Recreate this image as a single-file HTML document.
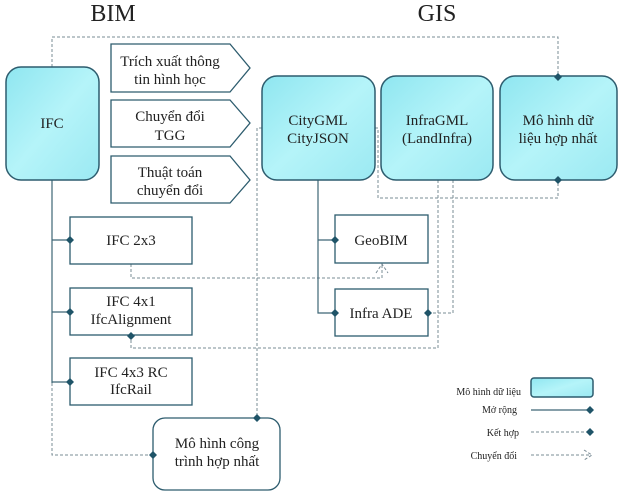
<!DOCTYPE html>
<html><head><meta charset="utf-8"><style>
html,body{margin:0;padding:0;background:#fff;}
svg{display:block;font-family:"Liberation Serif",serif;}
</style></head><body>
<svg width="640" height="492" viewBox="0 0 640 492" xmlns="http://www.w3.org/2000/svg">
<defs>
<linearGradient id="g" x1="0" y1="0" x2="1" y2="1">
<stop offset="0" stop-color="#8fe6f0"/><stop offset="0.5" stop-color="#b5f4f9"/><stop offset="1" stop-color="#9be9f2"/>
</linearGradient>
</defs>
<g fill="#222" font-size="24" text-anchor="middle">
<text x="113" y="21">BIM</text>
<text x="437" y="21">GIS</text>
</g>
<!-- dashed connectors -->
<g fill="none" stroke="#7a8c96" stroke-width="1" stroke-dasharray="3,2">
<path d="M52 67 V37 H558 V77"/>
<path d="M52 383 V455 H153"/>
<path d="M262 128 H257 V418"/>
<path d="M375 128 H378 V198 H558 V180"/>
<path d="M438 180 V348 H131 V336"/>
<path d="M453 180 V313 H428"/>
<path d="M131 264 V278 H382 V265"/>
<path d="M376 273 L382 264 L388 273"/>
<path d="M531 455 H590"/><path d="M584 450 L592 455 L584 460"/>
<path d="M531 432 H588"/>
</g>
<!-- solid connectors -->
<g fill="none" stroke="#3e6676" stroke-width="1.2">
<path d="M52 180 V383"/>
<path d="M52 240 H70 M52 312 H70 M52 382 H70"/>
<path d="M318 180 V313 H335 M318 240 H335"/>
<path d="M531 410 H588"/>
</g>
<!-- data model boxes -->
<g fill="url(#g)" stroke="#2d5c6e" stroke-width="1.5">
<rect x="6" y="67" width="93" height="113" rx="15"/>
<rect x="262" y="76" width="113" height="104" rx="15"/>
<rect x="381" y="76" width="112" height="104" rx="15"/>
<rect x="500" y="76" width="117" height="104" rx="15"/>
<rect x="531" y="378" width="62" height="19" rx="3"/>
</g>
<!-- pentagons -->
<g fill="#fff" stroke="#2d5c6e" stroke-width="1.3">
<path d="M111 44 H230 L250 68 L230 92 H111 Z"/>
<path d="M111 100 H230 L250 123 L230 147 H111 Z"/>
<path d="M111 156 H230 L250 180 L230 203 H111 Z"/>
<rect x="70" y="217" width="122" height="47"/>
<rect x="70" y="288" width="122" height="47"/>
<rect x="70" y="358" width="122" height="47"/>
<rect x="335" y="215" width="93" height="48"/>
<rect x="335" y="289" width="93" height="47"/>
<rect x="153" y="418" width="127" height="72" rx="12"/>
</g>
<!-- diamonds -->
<g fill="#1f5468">
<path d="M70 236 l4 4 l-4 4 l-4 -4z"/>
<path d="M70 308 l4 4 l-4 4 l-4 -4z"/>
<path d="M70 378 l4 4 l-4 4 l-4 -4z"/>
<path d="M335 236 l4 4 l-4 4 l-4 -4z"/>
<path d="M335 309 l4 4 l-4 4 l-4 -4z"/>
<path d="M428 309 l4 4 l-4 4 l-4 -4z"/>
<path d="M131 332 l4 4 l-4 4 l-4 -4z"/>
<path d="M558 73 l4 4 l-4 4 l-4 -4z"/>
<path d="M558 176 l4 4 l-4 4 l-4 -4z"/>
<path d="M257 414 l4 4 l-4 4 l-4 -4z"/>
<path d="M153 451 l4 4 l-4 4 l-4 -4z"/>
<path d="M590 406 l4 4 l-4 4 l-4 -4z"/>
<path d="M590 428 l4 4 l-4 4 l-4 -4z"/>
</g>
<g fill="#222" font-size="15" text-anchor="middle">
<text x="52" y="128">IFC</text>
<text x="318" y="125">CityGML</text><text x="318" y="143">CityJSON</text>
<text x="437" y="125">InfraGML</text><text x="437" y="143">(LandInfra)</text>
<text x="558" y="125">Mô hình dữ</text><text x="558" y="143">liệu hợp nhất</text>
<text x="170" y="66">Trích xuất thông</text><text x="170" y="84">tin hình học</text>
<text x="170" y="121">Chuyển đổi</text><text x="170" y="140">TGG</text>
<text x="170" y="177">Thuật toán</text><text x="170" y="195">chuyển đổi</text>
<text x="131" y="245">IFC 2x3</text>
<text x="131" y="306">IFC 4x1</text><text x="131" y="324">IfcAlignment</text>
<text x="131" y="377">IFC 4x3 RC</text><text x="131" y="394">IfcRail</text>
<text x="381" y="245">GeoBIM</text>
<text x="381" y="318">Infra ADE</text>
<text x="217" y="448">Mô hình công</text><text x="217" y="466">trình hợp nhất</text>
</g>
<g fill="#222" font-size="10" text-anchor="end">
<text x="521" y="395">Mô hình dữ liệu</text>
<text x="517" y="413">Mở rộng</text>
<text x="519" y="436">Kết hợp</text>
<text x="517" y="459">Chuyển đổi</text>
</g>
</svg>
</body></html>
